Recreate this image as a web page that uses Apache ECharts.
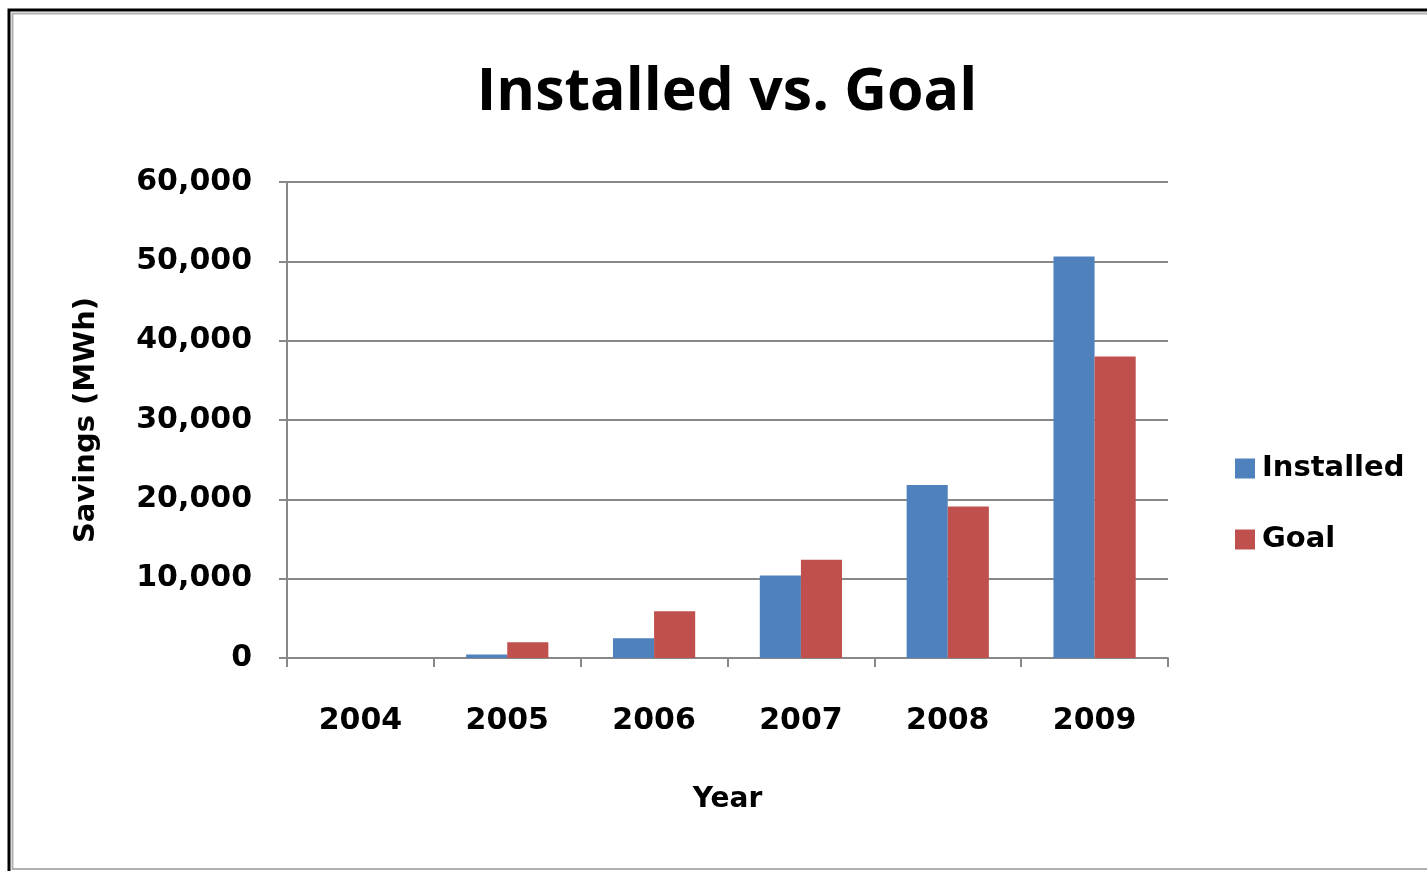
<!DOCTYPE html>
<html>
<head>
<meta charset="utf-8">
<script src="https://cdn.jsdelivr.net/npm/echarts@6/dist/echarts.min.js"></script>
<style>
  html, body { margin: 0; padding: 0; background: #fff; }
  #chart { width: 1427px; height: 871px; }
</style>
</head>
<body>
<div id="chart"></div>
<script>
// Annual energy savings, installed vs. goal (MWh)
const years = ['2004', '2005', '2006', '2007', '2008', '2009'];
const installed = [0, 450, 2500, 10400, 21800, 50600];
const goal = [0, 2000, 5900, 12400, 19100, 38000];
const yTicks = { min: 0, max: 60000, interval: 10000 };

const FONT = 'DejaVu Sans';
const chart = echarts.init(document.getElementById('chart'));

chart.setOption({
  backgroundColor: '#ffffff',
  animation: false,
  graphic: [
    // outer frame
    { type: 'rect', shape: { x: 9, y: 10, width: 1440, height: 880 },
      style: { fill: 'none', stroke: '#000', lineWidth: 3 }, silent: true },
    { type: 'rect', shape: { x: 12.5, y: 13.5, width: 1440, height: 855.5 },
      style: { fill: 'none', stroke: '#b0b0b0', lineWidth: 2 }, silent: true }
  ],
  title: {
    text: 'Installed vs. Goal',
    left: 722, top: 59, textAlign: 'center',
    textStyle: { fontFamily: 'Open Sans', fontWeight: 'bold', fontSize: 59, color: '#000' }
  },
  legend: {
    orient: 'vertical',
    left: 1230, top: 449,
    itemWidth: 20, itemHeight: 20, itemGap: 42,
    icon: 'rect',
    textStyle: { fontFamily: FONT, fontWeight: 'bold', fontSize: 29, color: '#000', padding: [0, 0, 0, 2] },
    data: ['Installed', 'Goal']
  },
  grid: { left: 287, right: 259, top: 182, bottom: 213, containLabel: false },
  xAxis: {
    type: 'category',
    data: years,
    name: 'Year',
    nameLocation: 'middle',
    nameGap: 128,
    nameTextStyle: { fontFamily: FONT, fontWeight: 'bold', fontSize: 28, color: '#000' },
    axisLine: { lineStyle: { color: '#888', width: 2 } },
    axisTick: { show: true, length: 9, lineStyle: { color: '#888', width: 2 } },
    axisLabel: { fontFamily: FONT, fontWeight: 'bold', fontSize: 30, color: '#000', margin: 48 }
  },
  yAxis: {
    type: 'value',
    min: yTicks.min, max: yTicks.max, interval: yTicks.interval,
    name: 'Savings (MWh)',
    nameLocation: 'middle',
    nameGap: 186,
    nameRotate: 90,
    nameTextStyle: { fontFamily: FONT, fontWeight: 'bold', fontSize: 29, color: '#000' },
    axisLine: { show: true, lineStyle: { color: '#888', width: 2 } },
    axisTick: { show: true, length: 8, lineStyle: { color: '#888', width: 2 } },
    splitLine: { show: true, lineStyle: { color: '#888', width: 2 } },
    axisLabel: {
      fontFamily: FONT, fontWeight: 'bold', fontSize: 30, color: '#000', margin: 35,
      formatter: v => v.toLocaleString('en-US')
    }
  },
  series: [
    { name: 'Installed', type: 'bar', data: installed, barGap: '0%', barCategoryGap: '44%',
      itemStyle: { color: '#4f81bd' } },
    { name: 'Goal', type: 'bar', data: goal, barGap: '0%', barCategoryGap: '44%',
      itemStyle: { color: '#c0504d' } }
  ]
});
</script>
</body>
</html>
